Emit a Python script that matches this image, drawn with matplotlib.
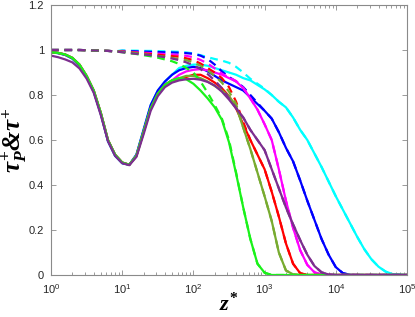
import numpy as np
import matplotlib
matplotlib.use("Agg")
import matplotlib.pyplot as plt
from matplotlib.ticker import LogLocator

plt.rcParams['font.family'] = ['Liberation Sans', 'DejaVu Sans']
plt.rcParams['mathtext.fontset'] = 'custom'
plt.rcParams['mathtext.it'] = 'Liberation Serif:italic:bold'
plt.rcParams['mathtext.rm'] = 'Liberation Serif:bold'
plt.rcParams['mathtext.bf'] = 'Liberation Serif:bold'
plt.rcParams['mathtext.fallback'] = 'stix'

# sampling of z* : log10(z*) = 0.0, 0.1, ..., 5.0
log_z = np.round(np.linspace(0.0, 5.0, 51), 2)
z = 10 ** log_z

# near-wall part (log z = 0.0 .. 1.7) of the solid curves
wall_std = [0.99, 0.987, 0.98, 0.965, 0.935, 0.885, 0.82, 0.72, 0.60, 0.535,
            0.50, 0.49, 0.53, 0.635, 0.74, 0.805, 0.845, 0.865]
wall_fast = [0.99, 0.986, 0.978, 0.962, 0.93, 0.88, 0.815, 0.715, 0.595, 0.53,
             0.497, 0.49, 0.535, 0.645, 0.755, 0.82, 0.86, 0.89]
wall_purple = [0.975, 0.968, 0.958, 0.945, 0.918, 0.873, 0.81, 0.71, 0.595, 0.53,
               0.497, 0.488, 0.525, 0.625, 0.73, 0.795, 0.835, 0.855]

# solid curves: tau^+  (log z = 1.8 .. 5.0 tails)
tau_green = wall_std + [0.875, 0.87, 0.85, 0.82, 0.785, 0.745, 0.69, 0.59, 0.45, 0.30,
                        0.16, 0.05, 0.01] + [0.0] * 20
tau_olive = wall_std + [0.875, 0.885, 0.885, 0.875, 0.86, 0.84, 0.82, 0.795, 0.75, 0.655,
                        0.56, 0.455, 0.35, 0.24, 0.10, 0.02, 0.003] + [0.0] * 16
tau_red = wall_std + [0.87, 0.88, 0.89, 0.89, 0.875, 0.855, 0.83, 0.795, 0.74, 0.67,
                      0.60, 0.535, 0.47, 0.37, 0.26, 0.14, 0.05, 0.008] + [0.0] * 15
tau_magenta = wall_std + [0.89, 0.905, 0.912, 0.915, 0.91, 0.90, 0.89, 0.875, 0.86, 0.83,
                          0.785, 0.735, 0.67, 0.60, 0.47, 0.33, 0.21, 0.11, 0.045, 0.012,
                          0.002] + [0.0] * 12
tau_purple = wall_purple + [0.865, 0.87, 0.872, 0.868, 0.858, 0.842, 0.815, 0.78, 0.74, 0.70,
                            0.645, 0.60, 0.555, 0.47, 0.385, 0.30, 0.225, 0.155, 0.09, 0.04,
                            0.012, 0.002] + [0.0] * 11
tau_blue = wall_fast + [0.91, 0.92, 0.925, 0.92, 0.905, 0.885, 0.865, 0.85, 0.835, 0.82,
                        0.79, 0.76, 0.73, 0.695, 0.635, 0.565, 0.505, 0.42, 0.33, 0.245,
                        0.16, 0.09, 0.035, 0.008, 0.001] + [0.0] * 8
tau_cyan = wall_fast + [0.92, 0.93, 0.935, 0.935, 0.93, 0.92, 0.91, 0.90, 0.89, 0.875,
                        0.865, 0.845, 0.825, 0.80, 0.77, 0.745, 0.70, 0.645, 0.60, 0.54,
                        0.48, 0.415, 0.35, 0.29, 0.23, 0.17, 0.115, 0.07, 0.037, 0.015,
                        0.004, 0.001, 0.0]

# dashed curves: tau_P^+
dash_wall = [1.0, 1.0, 1.0, 1.0, 1.0, 0.999, 0.998, 0.997, 0.996, 0.994]
tauP_green = dash_wall + [0.99, 0.986, 0.982, 0.977, 0.972, 0.966, 0.958, 0.95, 0.938, 0.92,
                          0.90, 0.86, 0.81, 0.755, 0.695, 0.60, 0.455, 0.30, 0.16, 0.05,
                          0.01] + [0.0] * 20
tauP_olive = dash_wall + [0.992, 0.989, 0.986, 0.982, 0.978, 0.974, 0.97, 0.965, 0.96, 0.955,
                          0.945, 0.93, 0.91, 0.885, 0.855, 0.815, 0.76] + tau_olive[27:]
tauP_red = dash_wall + [0.993, 0.99, 0.988, 0.985, 0.982, 0.979, 0.976, 0.973, 0.97, 0.963,
                        0.955, 0.94, 0.92, 0.90, 0.875, 0.835, 0.77, 0.68] + tau_red[28:]
tauP_magenta = dash_wall + [0.994, 0.992, 0.99, 0.988, 0.986, 0.984, 0.982, 0.98, 0.978, 0.974,
                            0.968, 0.956, 0.94, 0.918, 0.895, 0.878, 0.862, 0.832] + tau_magenta[28:]
tauP_purple = dash_wall + [0.99, 0.986, 0.983, 0.98, 0.977, 0.973, 0.968, 0.962, 0.955, 0.945,
                           0.932, 0.915, 0.893, 0.865, 0.83, 0.785, 0.742] + tau_purple[27:]
tauP_blue = dash_wall + [0.996, 0.995, 0.994, 0.993, 0.992, 0.991, 0.99, 0.989, 0.988, 0.986,
                         0.983, 0.975, 0.96, 0.935, 0.905, 0.88, 0.86, 0.835, 0.80, 0.765,
                         0.73] + tau_blue[31:]
tauP_cyan = dash_wall + [0.998, 0.997, 0.997, 0.996, 0.996, 0.995, 0.994, 0.993, 0.992, 0.989,
                         0.985, 0.977, 0.968, 0.96, 0.953, 0.943, 0.925, 0.90, 0.872, 0.85,
                         0.828] + tau_cyan[31:]

series = [
    ((0.0, 1.0, 1.0), tau_cyan, tauP_cyan),
    ((0.0, 0.0, 1.0), tau_blue, tauP_blue),
    ((1.0, 0.0, 1.0), tau_magenta, tauP_magenta),
    ((1.0, 0.0, 0.0), tau_red, tauP_red),
    ((0.47, 0.67, 0.19), tau_olive, tauP_olive),
    ((0.1, 0.95, 0.1), tau_green, tauP_green),
    ((0.49, 0.18, 0.56), tau_purple, tauP_purple),
]

fig = plt.figure(figsize=(4.15, 3.17), dpi=100)
ax = fig.add_axes([0.1229, 0.1325, 0.8578, 0.8517])

for color, solid, dashed in series:
    ax.plot(z, solid, color=color, lw=1.6, solid_capstyle='round', solid_joinstyle='round')
    ax.plot(z, dashed, color=color, lw=1.6, ls=(0, (3.5, 2.5)))

ax.set_xscale('log')
ax.set_xlim(1, 1e5)
ax.set_ylim(0, 1.2)
ax.set_yticks([0, 0.2, 0.4, 0.6, 0.8, 1.0, 1.2])
ax.set_yticklabels(['0', '0.2', '0.4', '0.6', '0.8', '1', '1.2'])
ax.xaxis.set_major_locator(LogLocator(base=10, numticks=10))
ax.xaxis.set_minor_locator(LogLocator(base=10, subs=np.arange(2, 10), numticks=20))

axis_grey = '#8a8a8a'
for sp in ax.spines.values():
    sp.set_color(axis_grey)
    sp.set_linewidth(0.8)
ax.tick_params(which='both', direction='in', top=True, right=True, color=axis_grey,
               labelcolor='#262626', labelsize=8)
ax.tick_params(which='major', length=3.5, width=0.6)
ax.tick_params(which='minor', length=2, width=0.6)
ax.tick_params(axis='y', pad=5)
ax.tick_params(axis='x', pad=5)

label_font = dict(family='Liberation Serif', weight='bold', style='italic')
ax.set_xlabel(r'$z^{*}$', labelpad=-2, size=16, **label_font)
ax.set_ylabel(r'$\tau_P^{+}$&$\tau^{+}$', labelpad=0, size=18, **label_font)

fig.savefig('out.png', dpi=100)
